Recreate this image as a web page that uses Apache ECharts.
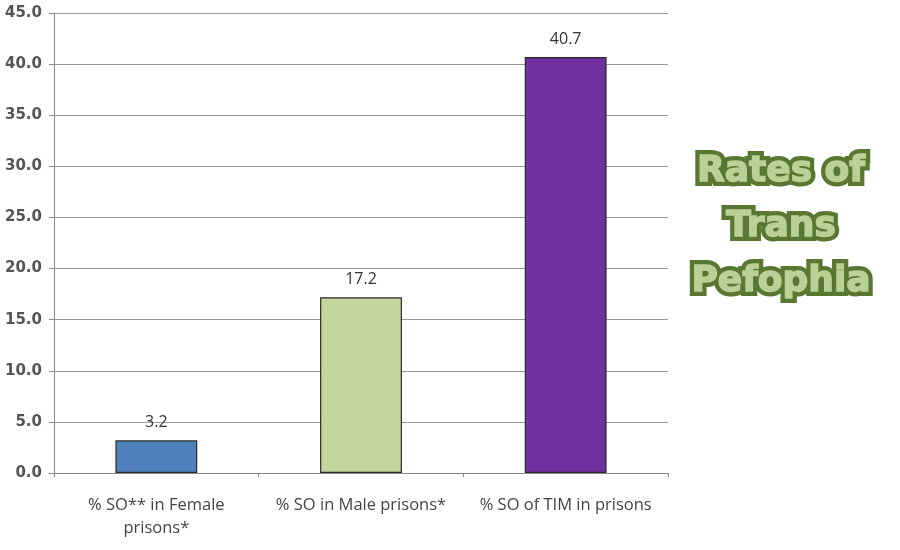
<!DOCTYPE html>
<html>
<head>
<meta charset="utf-8">
<script src="https://cdn.jsdelivr.net/npm/echarts@6/dist/echarts.min.js"></script>
<style>html,body{margin:0;padding:0;background:#fff;}#c{width:900px;height:550px;}</style>
</head>
<body>
<div id="c"></div>
<script>
const categories = ['% SO** in Female\nprisons*', '% SO in Male prisons*', '% SO of TIM in prisons'];
const values = [3.2, 17.2, 40.7];
const barColors = ['#4f81bd', '#c3d69b', '#7030a0'];
const titleLines = ['Rates of', 'Trans', 'Pefophia'];

const titleFont = '900 36px "DejaVu Sans", sans-serif';
const outline = titleLines.map((t, i) => ({
  type: 'text', x: 781, y: 172 + i * 55, z: 10,
  style: { text: t, textAlign: 'center', textVerticalAlign: 'middle', fill: '#587832',
           stroke: '#587832', lineWidth: 10, lineJoin: 'round', font: titleFont }
}));
const inner = titleLines.map((t, i) => ({
  type: 'text', x: 781, y: 172 + i * 55, z: 11,
  style: { text: t, textAlign: 'center', textVerticalAlign: 'middle', fill: '#b9d196',
           stroke: '#b9d196', lineWidth: 1.5, lineJoin: 'round', font: titleFont }
}));

const chart = echarts.init(document.getElementById('c'));
chart.setOption({
  backgroundColor: '#fff',
  animation: false,
  grid: { left: 54, right: 232, top: 13, bottom: 77 },
  xAxis: {
    type: 'category',
    data: categories,
    axisLine: { lineStyle: { color: '#888', width: 1 } },
    axisTick: { show: true, alignWithLabel: false, length: 4, lineStyle: { color: '#888' } },
    axisLabel: { color: '#444', fontSize: 16.5, fontFamily: 'Open Sans, sans-serif', margin: 21, lineHeight: 23, interval: 0 }
  },
  yAxis: {
    type: 'value',
    min: 0, max: 45, interval: 5,
    axisLine: { show: true, lineStyle: { color: '#888' } },
    axisTick: { show: true, length: 5, lineStyle: { color: '#888' } },
    axisLabel: { color: '#555', fontSize: 15, fontWeight: 'bold', fontFamily: 'DejaVu Sans, sans-serif', margin: 12, formatter: v => v.toFixed(1) },
    splitLine: { lineStyle: { color: '#9a9a9a', width: 1 } }
  },
  series: [{
    type: 'bar',
    barWidth: '40%',
    data: values.map((v, i) => ({ value: v, itemStyle: { color: barColors[i] } })),
    itemStyle: { borderColor: '#2a2a2a', borderWidth: 1.2 },
    label: { show: true, position: 'top', distance: 10, color: '#333', fontSize: 16, fontFamily: 'Open Sans, sans-serif', formatter: p => p.value.toFixed(1) }
  }],
  graphic: outline.concat(inner)
});
</script>
</body>
</html>
